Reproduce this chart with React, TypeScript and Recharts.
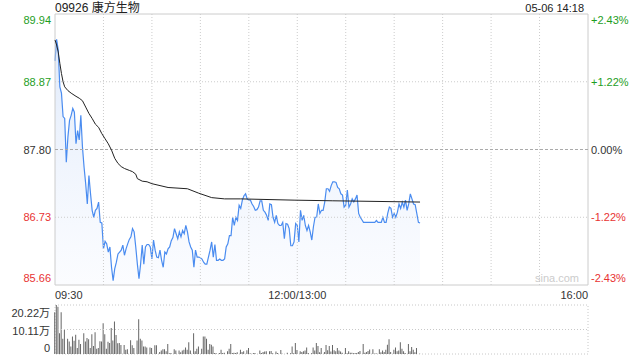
import { ComposedChart, Area, Line, Bar, XAxis, YAxis, ReferenceLine, ReferenceArea } from 'recharts'

const font = '"Liberation Sans", Arial, "Noto Sans CJK SC", sans-serif'

const title = '09926 康方生物'
const stamp = '05-06 14:18'
const priceTicks = [89.94, 88.87, 87.8, 86.73, 85.66]
const pctLabels = ['+2.43%', '+1.22%', '0.00%', '-1.22%', '-2.43%']
const tickColors = ['#1e9e1e', '#1e9e1e', '#333333', '#e83333', '#e83333']
const timeTicks = [0, 150, 330]
const timeLabels = ['09:30', '12:00/13:00', '16:00']
const gridMinutes = [30, 60, 90, 120, 150, 180, 210, 240, 270, 300]
const volTicks = [0, 10.11, 20.22]

// last price, one per minute from 09:30
const price = [
  89.2, 89.54, 89.37, 88.79, 88.69, 88.32, 88.29, 87.6, 88.0, 88.26,
  88.34, 88.45, 88.39, 87.89, 88.1, 87.95, 88.34, 87.84, 87.52, 87.26,
  86.94, 87.39, 87.1, 86.84, 86.73, 86.84, 86.87, 86.97, 86.65, 86.64,
  86.23, 86.35, 86.31, 86.18, 86.26, 85.94, 85.73, 85.92, 86.02, 86.15,
  86.18, 86.21, 86.29, 86.13, 86.23, 86.31, 86.38, 86.42, 86.55, 86.5,
  86.26, 85.99, 85.76, 85.99, 86.29, 85.99, 86.26, 86.3, 86.3, 86.26,
  86.07, 86.37, 86.21, 86.1, 86.09, 86.21, 86.05, 85.94, 86.18, 86.15,
  86.23, 86.26, 86.36, 86.41, 86.55, 86.47, 86.39, 86.5, 86.42, 86.52,
  86.47, 86.6, 86.5, 86.34, 86.26, 86.21, 85.94, 86.21, 86.1, 86.1,
  86.09, 86.07, 86.02, 85.99, 85.99, 86.1, 86.21, 86.34, 86.1, 86.3,
  86.05, 86.05, 86.07, 86.05, 86.05, 86.07, 86.26, 86.31, 86.44, 86.44,
  86.73, 86.6, 86.73, 86.68, 86.92, 86.87, 87.0, 87.07, 87.1, 87.02,
  87.0, 87.0, 86.94, 86.9, 86.84, 86.85, 86.89, 86.99, 86.99, 86.84,
  86.81, 86.76, 86.68, 86.94, 86.93, 86.73, 86.65, 86.76, 86.63, 86.6,
  86.6, 86.65, 86.39, 86.63, 86.62, 86.55, 86.28, 86.28, 86.34, 86.63,
  86.6, 86.34, 86.84, 86.68, 86.76, 86.6, 86.52, 86.6, 86.5, 86.37,
  86.58, 86.73, 86.73, 86.94, 86.79, 86.84, 86.84, 86.97, 87.18, 87.18,
  87.14, 87.23, 87.29, 87.29, 87.28, 87.2, 87.18, 87.1, 87.08, 86.89,
  86.92, 87.16, 86.89, 86.94, 87.02, 86.97, 87.02, 87.08, 86.79, 86.73,
  86.69, 86.65, 86.65, 86.65, 86.65, 86.65, 86.65, 86.65, 86.65, 86.68,
  86.65, 86.65, 86.65, 86.73, 86.65, 86.65, 86.79, 86.89, 86.87, 86.73,
  86.79, 86.73, 86.81, 86.94, 86.87, 86.97, 86.89, 87.0, 86.84, 86.94,
  87.1, 87.02, 86.94, 86.93, 86.79, 86.65, 86.64,
]

// average price line
const avgMinutes = [0, 1, 2, 3, 4, 5, 6, 8, 10, 13, 15, 17, 19, 21, 23, 25, 27, 29, 31, 33, 35, 37, 39, 41, 43, 46, 48, 50, 51, 54, 57, 60, 70, 82, 89, 97, 105, 115, 148, 172, 226]
const avgValues = [89.53, 89.45, 89.34, 89.16, 89.0, 88.87, 88.79, 88.73, 88.69, 88.64, 88.61, 88.57, 88.47, 88.37, 88.29, 88.2, 88.15, 88.05, 87.97, 87.89, 87.79, 87.66, 87.58, 87.53, 87.5, 87.47, 87.45, 87.41, 87.34, 87.3, 87.29, 87.26, 87.2, 87.18, 87.11, 87.04, 87.02, 87.02, 87.0, 86.99, 86.97]

// volume (万股)
const volMinutes = [
  0, 1, 2, 3, 4, 5, 6, 8, 9, 10, 11, 12, 13, 14, 15, 16, 18, 19, 20, 21, 22, 23, 24, 25, 26, 27, 28, 29, 30, 31,
  32, 33, 34, 35, 36, 37, 38, 39, 40, 41, 43, 44, 45, 47, 48, 49, 51, 52, 53, 54, 55, 56, 57, 59, 60, 62, 63, 65, 66, 67,
  68, 69, 70, 71, 72, 74, 75, 77, 78, 79, 80, 81, 82, 83, 84, 86, 87, 88, 89, 91, 92, 93, 94, 95, 96, 97, 98, 99, 100, 102,
  103, 104, 105, 107, 108, 109, 110, 111, 112, 113, 115, 116, 117, 119, 120, 121, 123, 124, 127, 128, 129, 130, 131, 133, 134, 135,
  137, 138, 140, 141, 144, 146, 147, 148, 149, 150, 152, 153, 154, 155, 156, 157, 159, 160, 161, 162, 163, 164, 165, 167, 168, 169,
  170, 171, 172, 173, 174, 175, 176, 177, 178, 180, 181, 182, 183, 184, 185, 186, 187, 188, 189, 191, 192, 193, 194, 195, 197, 198,
  199, 201, 202, 203, 204, 205, 206, 207, 208, 210, 211, 212, 213, 214, 215, 216, 217, 219, 220, 221, 222, 223, 224, 226,
]
const volValues = [
  17.2, 20.2, 19.5, 8.6, 17.2, 6.3, 10.0, 6.3, 5.2, 3.1, 7.2, 5.5, 7.9, 2.5, 5.9, 4.1, 8.6, 5.2, 6.6, 6.1, 2.5, 8.2, 3.3, 9.0, 2.2, 2.5, 5.3, 5.2, 12.7, 8.2,
  2.2, 5.1, 4.5, 10.7, 5.6, 13.4, 7.8, 4.4, 4.5, 3.7, 3.7, 1.8, 2.0, 5.7, 3.6, 2.5, 5.6, 14.3, 6.3, 5.6, 3.1, 3.1, 2.7, 2.7, 2.5, 3.6, 3.6, 0.8, 1.4, 2.0,
  2.0, 1.1, 4.1, 0.3, 0.4, 2.0, 1.4, 1.4, 0.7, 1.4, 1.8, 2.7, 1.8, 4.9, 1.4, 8.6, 1.1, 2.2, 3.1, 2.2, 7.2, 7.2, 6.3, 1.8, 4.1, 3.8, 3.1, 0.4, 0.3, 0.4,
  1.8, 0.4, 0.5, 1.1, 2.2, 4.1, 0.4, 0.5, 0.4, 0.7, 1.8, 0.8, 1.1, 1.5, 2.5, 0.3, 0.4, 0.4, 1.4, 0.4, 0.8, 1.0, 1.1, 1.1, 1.2, 0.3,
  1.0, 0.4, 1.6, 0.1, 0.5, 0.3, 3.1, 0.3, 4.5, 1.6, 1.1, 0.8, 1.1, 1.4, 2.7, 0.4, 0.3, 2.7, 1.4, 4.5, 3.3, 0.7, 2.5, 0.8, 3.7, 1.5,
  3.3, 1.0, 3.7, 1.5, 1.1, 2.5, 1.4, 1.0, 0.5, 2.5, 0.3, 1.1, 0.5, 0.5, 0.3, 0.4, 0.4, 0.8, 1.2, 4.1, 0.5, 0.8, 1.2, 1.9, 2.0, 0.1,
  0.3, 2.0, 0.7, 1.4, 0.8, 1.8, 3.8, 6.1, 0.8, 1.8, 2.7, 1.1, 1.4, 4.9, 2.2, 1.1, 0.4, 4.1, 1.1, 2.9, 1.8, 0.7, 2.5, 0.1,
]

const priceMin = priceTicks[priceTicks.length - 1]
const priceMax = priceTicks[0]

function PriceTick(props: any, side: 'left' | 'right') {
  const { x, y, payload } = props
  const i = priceTicks.indexOf(payload.value)
  const dy = i === 0 ? 10 : i === priceTicks.length - 1 ? -3 : 4
  return (
    <text x={x} y={y} dy={dy} textAnchor={side === 'left' ? 'end' : 'start'} fill={tickColors[i]} fontSize={11} fontFamily={font}>
      {side === 'left' ? payload.value.toFixed(2) : pctLabels[i]}
    </text>
  )
}

function TimeTick(props: any) {
  const { x, y, payload } = props
  const i = timeTicks.indexOf(payload.value)
  const anchor = i === 0 ? 'start' : i === timeTicks.length - 1 ? 'end' : 'middle'
  return (
    <text x={x} y={y} dy={12} textAnchor={anchor} fill="#333" fontSize={11} fontFamily={font}>
      {timeLabels[i]}
    </text>
  )
}

function VolTick(props: any) {
  const { x, y, payload } = props
  const i = volTicks.indexOf(payload.value)
  const dy = i === volTicks.length - 1 ? 12 : i === 0 ? -2 : 5
  return (
    <text x={x} y={y} dy={dy} textAnchor="end" fill="#333" fontSize={11} fontFamily={font}>
      {i === 0 ? '0' : payload.value.toFixed(2) + '万'}
    </text>
  )
}

export default function App() {
  const priceRows = price.map((p, m) => {
    const k = avgMinutes.indexOf(m)
    return { m, price: p, avg: k >= 0 ? avgValues[k] : null }
  })
  const volRows = volMinutes.map((m, i) => ({ m, vol: volValues[i] }))

  return (
    <div style={{ position: 'absolute', left: 0, top: 0, width: 640, height: 360, background: '#fff', fontFamily: font, overflow: 'hidden' }}>
      <div style={{ position: 'absolute', left: 55, top: 0, fontSize: 12, lineHeight: '16px', color: '#222' }}>{title}</div>
      <div style={{ position: 'absolute', right: 56, top: 0, fontSize: 11, lineHeight: '16px', color: '#222' }}>{stamp}</div>

      <div style={{ position: 'absolute', left: 0, top: 0 }}>
        <ComposedChart width={640} height={300} data={priceRows} margin={{ top: 14, right: 0, bottom: 0, left: 0 }}>
          <defs>
            <linearGradient id="priceFill" x1="0" y1="0" x2="0" y2="1">
              <stop offset="0%" stopColor="#c6d9f7" stopOpacity={0.9} />
              <stop offset="100%" stopColor="#f4f7fe" stopOpacity={0.6} />
            </linearGradient>
          </defs>
          <XAxis dataKey="m" type="number" domain={[0, 330]} ticks={timeTicks} tick={TimeTick} tickLine={false} axisLine={false} tickSize={0} height={15} interval={0} />
          <YAxis yAxisId="left" domain={[priceMin, priceMax]} ticks={priceTicks} tick={(p: any) => PriceTick(p, 'left')} tickLine={false} axisLine={false} tickSize={0} tickMargin={4} width={55} interval={0} allowDataOverflow />
          <YAxis yAxisId="right" orientation="right" domain={[priceMin, priceMax]} ticks={priceTicks} tick={(p: any) => PriceTick(p, 'right')} tickLine={false} axisLine={false} tickSize={0} tickMargin={3} width={52} interval={0} allowDataOverflow />
          {gridMinutes.map((g) => (
            <ReferenceLine key={g} yAxisId="left" x={g} stroke="#cccccc" strokeDasharray="1 2" />
          ))}
          {priceTicks.slice(1, -1).map((t) => (
            <ReferenceLine key={t} yAxisId="left" y={t} stroke={t === 87.8 ? '#aaaaaa' : '#cccccc'} strokeDasharray={t === 87.8 ? '3 2' : '1 2'} />
          ))}
          <Area yAxisId="left" type="linear" dataKey="price" stroke="#4a8cf0" strokeWidth={1.2} fill="url(#priceFill)" baseValue={priceMin} dot={false} activeDot={false} isAnimationActive={false} />
          <Line yAxisId="right" type="linear" dataKey="avg" stroke="#222" strokeWidth={1} dot={false} activeDot={false} connectNulls isAnimationActive={false} />
          <ReferenceArea yAxisId="left" x1={0} x2={330} y1={priceMin} y2={priceMax} fill="none" stroke="#cccccc" strokeWidth={1} />
        </ComposedChart>
      </div>

      <div style={{ position: 'absolute', left: 535, top: 271, fontSize: 11, lineHeight: '14px', color: '#cccccc' }}>sina.com</div>

      <div style={{ position: 'absolute', left: 0, top: 300 }}>
        <ComposedChart width={640} height={60} data={volRows} margin={{ top: 5, right: 52, bottom: 6, left: 0 }}>
          <XAxis dataKey="m" type="number" domain={[0, 330]} hide />
          <YAxis domain={[0, 20.22]} ticks={volTicks} tick={VolTick} tickLine={false} axisLine={false} tickSize={0} tickMargin={5} width={55} interval={0} allowDataOverflow />
          <ReferenceLine y={10.11} stroke="#c8c8c8" strokeDasharray="1 2" />
          <ReferenceArea x1={0} x2={330} y1={0} y2={20.22} fill="none" stroke="#c8c8c8" strokeDasharray="1 2" />
          <Bar dataKey="vol" fill="#666666" barSize={1} isAnimationActive={false} />
        </ComposedChart>
      </div>
    </div>
  )
}
